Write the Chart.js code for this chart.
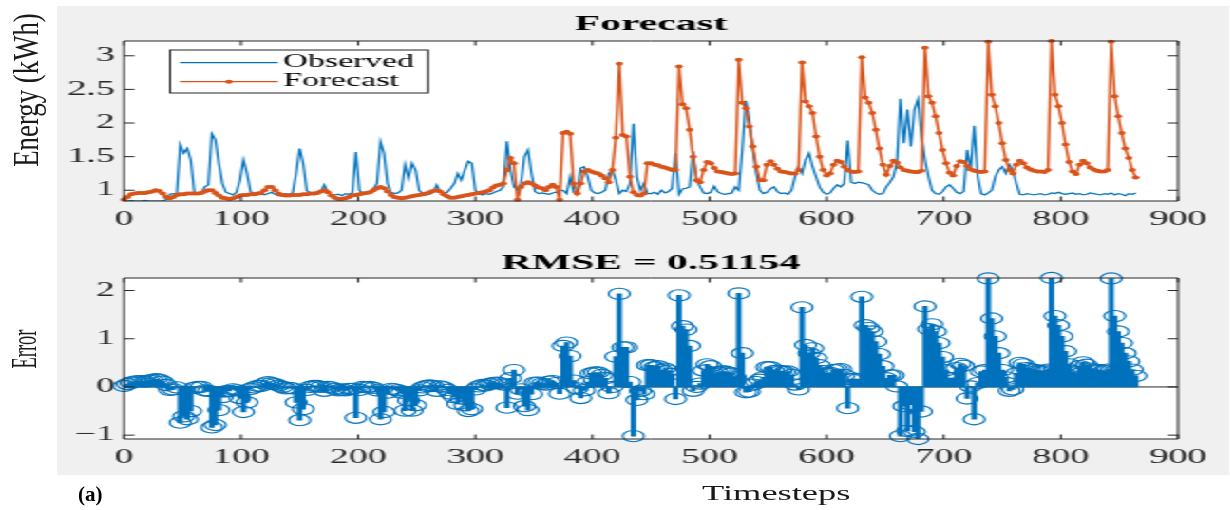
<!DOCTYPE html>
<html>
<head>
<meta charset="utf-8">
<title>Forecast</title>
<script src="https://cdn.jsdelivr.net/npm/chart.js@4.4.1/dist/chart.umd.min.js"></script>
<style>
    html, body { margin: 0; padding: 0; background: #fff; }
    body { width: 1230px; height: 510px; position: relative; overflow: hidden; font-family: "Liberation Serif", "Times New Roman", serif; }
    /* the source figure is stretched sideways, so the whole plot is drawn narrow and scaled */
    #fig { position: absolute; left: 0; top: 0; width: 648px; height: 510px; transform: scaleX(1.9); transform-origin: 0 0; }
    #bg { position: absolute; left: 30px; top: 6px; width: 617px; height: 469px; background: #f0f0f0; }
    #c1 { position: absolute; left: 30px; top: 6px; }
    #c2 { position: absolute; left: 30px; top: 240px; }
    .lbl { position: absolute; white-space: nowrap; line-height: 1; font-size: 20px; color: #1a1a1a; }
    #ylab1 { left: 25px; top: 90px; transform: translate(-50%, -50%) rotate(-90deg) scale(1.34, 1.8); }
    #ylab2 { left: 23.5px; top: 349px; transform: translate(-50%, -50%) rotate(-90deg) scale(0.92, 1.74); }
    #xlab { left: 702px; top: 483px; transform: scaleX(1.82); transform-origin: 0 0; }
    #tag { left: 78px; top: 484px; font-size: 21px; font-weight: bold; color: #000; }
</style>
</head>
<body>
<div id="fig">
    <div id="bg"></div>
    <canvas id="c1" width="617" height="234"></canvas>
    <canvas id="c2" width="617" height="235"></canvas>
</div>
<div class="lbl" id="ylab1">Energy (kWh)</div>
<div class="lbl" id="ylab2">Error</div>
<div class="lbl" id="xlab">Timesteps</div>
<div class="lbl" id="tag">(a)</div>

<script>
// one value every 3 timesteps, 0 .. 864
const timesteps = Array.from({length: 289}, (_, i) => i * 3);

const observed = [
    0.84,0.84,0.85,0.84,0.84,0.84,0.85,0.84,0.84,0.84,
    0.84,0.84,0.86,0.94,0.95,0.94,1.68,1.55,1.62,1.45,
    0.97,0.95,0.96,1.05,1.08,1.84,1.75,1.40,1.10,0.97,
    0.95,0.93,0.97,1.15,1.45,1.25,0.98,0.95,0.93,0.94,
    0.93,0.95,0.97,0.94,0.92,0.93,0.95,0.94,0.96,1.25,
    1.62,1.40,1.00,0.95,0.93,0.94,0.98,1.08,0.97,0.93,
    0.93,0.94,0.92,0.95,0.94,0.96,1.57,1.00,0.95,0.97,
    0.97,1.02,1.10,1.72,1.55,1.10,0.97,0.95,0.96,1.00,
    1.38,1.18,1.40,1.30,1.00,0.95,0.93,0.94,0.97,1.08,
    0.97,0.95,0.97,1.03,1.10,1.25,1.15,1.30,1.43,1.40,
    1.00,0.95,0.93,0.95,0.94,0.96,0.98,1.00,1.05,1.73,
    1.30,1.05,1.00,1.10,1.50,1.60,1.25,0.98,0.95,0.96,
    0.95,0.94,0.96,0.97,1.00,1.00,0.95,1.20,0.97,0.98,
    1.33,1.35,1.20,1.00,0.96,0.95,0.97,1.00,1.25,1.30,
    1.15,0.95,1.00,0.98,1.10,1.99,1.20,1.00,1.10,0.95,
    0.95,0.97,0.94,1.00,0.96,0.98,1.03,1.55,0.94,1.02,
    1.03,1.05,1.58,1.15,1.05,0.96,0.95,0.97,1.06,0.98,
    0.95,0.94,0.95,0.96,1.05,1.00,1.60,2.33,2.05,1.60,
    1.25,1.00,0.95,0.97,1.02,1.05,0.98,0.95,0.96,0.94,
    1.00,1.20,1.35,1.25,1.45,1.55,1.35,1.20,1.05,0.97,
    0.94,0.96,1.03,1.08,1.05,1.10,1.74,1.12,1.10,1.12,
    1.11,1.10,1.08,1.00,0.96,0.94,0.95,1.05,1.12,1.20,
    1.40,2.36,1.70,2.20,1.65,2.20,2.35,1.80,1.45,1.20,
    1.00,0.95,0.94,0.98,1.05,1.08,1.03,0.97,0.95,0.98,
    1.60,1.30,1.96,1.20,0.95,0.93,0.96,1.00,1.20,1.30,
    1.35,1.25,1.38,1.30,1.10,0.94,0.93,0.95,0.94,0.93,
    0.94,0.95,0.93,0.94,0.96,0.95,0.97,0.95,0.94,0.95,
    0.96,0.94,0.95,0.93,0.94,0.96,0.95,0.94,0.93,0.95,
    0.94,0.96,0.93,0.95,0.94,0.92,0.95,0.94,0.96
];

const forecast = [
    0.86,0.90,0.94,0.95,0.96,0.96,0.96,0.97,0.98,1.00,
    0.99,0.95,0.90,0.88,0.90,0.93,0.94,0.94,0.95,0.95,
    0.95,0.95,0.96,0.98,1.00,1.00,0.96,0.92,0.89,0.88,
    0.87,0.88,0.90,0.92,0.93,0.93,0.94,0.94,0.95,0.96,
    1.00,1.05,1.05,1.00,0.95,0.93,0.92,0.92,0.93,0.93,
    0.93,0.94,0.94,0.95,0.95,0.96,0.98,1.00,0.97,0.92,
    0.89,0.87,0.87,0.88,0.90,0.92,0.93,0.94,0.95,0.96,
    0.97,1.00,1.03,1.05,1.03,0.98,0.93,0.90,0.89,0.88,
    0.89,0.90,0.91,0.92,0.93,0.94,0.95,0.97,0.99,1.00,
    0.98,0.94,0.91,0.89,0.89,0.90,0.91,0.92,0.93,0.94,
    0.95,0.96,0.97,0.98,1.00,1.04,1.07,1.08,1.10,1.30,
    1.48,1.40,0.86,1.05,1.10,1.12,1.10,1.07,1.04,1.03,
    1.00,1.05,1.08,1.05,0.86,1.85,1.87,1.84,1.10,0.95,
    1.10,1.28,1.30,1.28,1.26,1.25,1.22,1.18,1.12,1.30,
    1.78,2.88,1.82,1.80,1.20,0.97,0.93,0.92,0.95,1.40,
    1.40,1.38,1.37,1.35,1.34,1.32,1.30,1.30,2.84,2.28,
    2.22,1.90,1.50,1.15,1.12,1.30,1.42,1.40,1.33,1.28,
    1.27,1.26,1.25,1.24,1.25,2.94,2.30,2.22,1.95,1.65,
    1.35,1.15,1.15,1.38,1.43,1.38,1.32,1.28,1.27,1.26,
    1.25,1.25,1.30,2.90,2.32,2.25,2.15,1.80,1.50,1.30,
    1.22,1.25,1.38,1.44,1.42,1.35,1.30,1.28,1.27,1.28,
    2.98,2.38,2.30,2.15,1.90,1.62,1.38,1.23,1.36,1.44,
    1.41,1.34,1.30,1.29,1.28,1.27,1.27,1.29,3.12,2.40,
    2.30,2.10,1.85,1.60,1.40,1.26,1.22,1.36,1.43,1.42,
    1.36,1.31,1.29,1.28,1.27,1.28,3.21,2.42,2.25,2.00,
    1.70,1.45,1.30,1.25,1.38,1.44,1.40,1.34,1.31,1.29,
    1.28,1.28,1.27,1.30,3.22,2.42,2.25,2.00,1.68,1.42,
    1.28,1.24,1.38,1.44,1.40,1.34,1.31,1.29,1.28,1.28,
    1.30,3.21,2.40,2.10,1.85,1.62,1.48,1.30,1.19
];

const errorVals = [
    0.02,0.06,0.09,0.11,0.12,0.12,0.11,0.13,0.14,0.16,
    0.15,0.11,0.04,-0.06,-0.05,-0.01,-0.74,-0.61,-0.67,-0.50,
    -0.02,0.00,0.00,-0.07,-0.08,-0.84,-0.79,-0.48,-0.21,-0.09,
    -0.08,-0.05,-0.07,-0.23,-0.52,-0.32,-0.04,-0.01,0.02,0.02,
    0.07,0.10,0.08,0.06,0.03,0.00,-0.03,-0.02,-0.03,-0.32,
    -0.69,-0.46,-0.06,0.00,0.02,0.02,0.00,-0.08,0.00,-0.01,
    -0.04,-0.07,-0.05,-0.07,-0.04,-0.04,-0.64,-0.06,0.00,-0.01,
    0.00,-0.02,-0.07,-0.67,-0.52,-0.12,-0.04,-0.05,-0.07,-0.12,
    -0.49,-0.28,-0.49,-0.38,-0.07,-0.01,0.02,0.03,0.02,-0.08,
    0.01,-0.01,-0.06,-0.14,-0.21,-0.35,-0.24,-0.38,-0.50,-0.46,
    -0.05,0.01,0.04,0.03,0.06,0.08,0.09,0.08,0.05,-0.43,
    0.18,0.35,-0.14,-0.05,-0.40,-0.48,-0.15,0.09,0.09,0.07,
    0.05,0.11,0.12,0.08,-0.14,0.85,0.92,0.64,0.13,-0.03,
    -0.23,-0.07,0.10,0.28,0.30,0.30,0.25,0.18,-0.13,0.00,
    0.63,1.93,0.82,0.82,0.10,-1.02,-0.27,-0.08,-0.15,0.45,
    0.45,0.41,0.43,0.35,0.38,0.34,0.27,-0.25,1.90,1.26,
    1.19,0.85,-0.08,0.00,0.07,0.34,0.47,0.43,0.27,0.30,
    0.32,0.32,0.30,0.28,0.20,1.94,0.70,-0.11,-0.10,0.05,
    0.10,0.15,0.20,0.41,0.41,0.33,0.34,0.33,0.31,0.32,
    0.25,0.05,-0.05,1.65,0.87,0.70,0.80,0.60,0.45,0.33,
    0.28,0.29,0.35,0.36,0.37,0.25,-0.44,0.16,0.17,0.16,
    1.87,1.28,1.22,1.15,0.94,0.68,0.43,0.18,0.24,0.24,
    0.01,-1.02,-0.40,-0.91,-0.37,-0.93,-1.08,-0.51,1.67,1.20,
    1.30,1.15,0.91,0.62,0.35,0.18,0.19,0.39,0.48,0.44,
    -0.24,0.01,-0.67,0.08,0.32,0.35,2.25,1.42,1.05,0.70,
    0.35,0.20,-0.08,-0.05,0.28,0.50,0.47,0.39,0.37,0.36,
    0.34,0.33,0.34,0.36,2.26,1.47,1.28,1.05,0.74,0.47,
    0.32,0.30,0.43,0.51,0.46,0.38,0.36,0.35,0.35,0.33,
    0.36,2.25,1.47,1.15,0.91,0.70,0.53,0.36,0.23
];

const xTicks = [0, 100, 200, 300, 400, 500, 600, 700, 800, 900];
const energyTicks = [1, 1.5, 2, 2.5, 3];
const errorTicks = [-1, 0, 1, 2];

const BLUE = '#0072BD';
const ORANGE = '#D95319';
const INK = '#262626';

Chart.defaults.font.family = '"Liberation Serif", "Times New Roman", serif';
Chart.defaults.color = INK;

const toPoints = vals => timesteps.map((t, i) => ({x: t, y: vals[i]}));

// white axes, box, inward ticks, title and legend the way MATLAB draws them
const matlabAxes = {
    id: 'matlabAxes',
    beforeDatasetsDraw(chart, args, o) {
        const {ctx, chartArea: a, scales} = chart;
        ctx.save();
        ctx.fillStyle = '#ffffff';
        ctx.fillRect(a.left, a.top, a.right - a.left, a.bottom - a.top);
        if (o.baseline) {
            const y0 = scales.y.getPixelForValue(0);
            ctx.strokeStyle = INK;
            ctx.lineWidth = 1;
            ctx.beginPath();
            ctx.moveTo(a.left, y0);
            ctx.lineTo(a.right, y0);
            ctx.stroke();
        }
        ctx.restore();
    },
    afterDraw(chart, args, o) {
        const {ctx, chartArea: a, scales} = chart;
        ctx.save();
        ctx.strokeStyle = INK;
        ctx.lineWidth = 1;
        ctx.beginPath();
        ctx.rect(a.left, a.top, a.right - a.left, a.bottom - a.top);
        scales.x.ticks.forEach(t => {
            const x = scales.x.getPixelForValue(t.value);
            ctx.moveTo(x, a.bottom); ctx.lineTo(x, a.bottom - 4.5);
            ctx.moveTo(x, a.top); ctx.lineTo(x, a.top + 4.5);
        });
        scales.y.ticks.forEach(t => {
            const y = scales.y.getPixelForValue(t.value);
            ctx.moveTo(a.left, y); ctx.lineTo(a.left + 5.5, y);
            ctx.moveTo(a.right, y); ctx.lineTo(a.right - 5.5, y);
        });
        ctx.stroke();

        ctx.fillStyle = '#000';
        ctx.font = 'bold 22px "Liberation Serif"';
        ctx.textAlign = 'center';
        ctx.textBaseline = 'middle';
        ctx.fillText(o.title, (a.left + a.right) / 2, a.top - o.titleGap);

        if (o.legend) {
            const L = o.legend;
            ctx.fillStyle = '#fff';
            ctx.fillRect(L.x, L.y, L.w, L.h);
            ctx.strokeRect(L.x, L.y, L.w, L.h);
            ctx.font = '18px "Liberation Serif"';
            ctx.textAlign = 'left';
            chart.data.datasets.forEach((ds, i) => {
                const yy = L.y + L.rows[i];
                ctx.strokeStyle = ds.borderColor;
                ctx.lineWidth = 1.2;
                ctx.beginPath();
                ctx.moveTo(L.x + 5.2, yy);
                ctx.lineTo(L.x + 56.8, yy);
                ctx.stroke();
                if (ds.pointRadius > 0) {
                    ctx.fillStyle = ds.borderColor;
                    ctx.beginPath();
                    ctx.arc(L.x + 31, yy, ds.pointRadius, 0, Math.PI * 2);
                    ctx.fill();
                }
                ctx.fillStyle = '#000';
                ctx.fillText(ds.label, L.x + 59.6, yy);
            });
        }
        ctx.restore();
    }
};

function xAxis(height) {
    return {
        type: 'linear', min: 0, max: 900, offset: false,
        afterBuildTicks: s => { s.ticks = xTicks.map(v => ({value: v})); },
        afterFit: s => { s.height = height; },
        grid: {display: false, drawTicks: false},
        border: {display: false},
        ticks: {padding: 6.5, maxRotation: 0, autoSkip: false, font: {size: 20}, color: INK,
                callback: v => String(v)}
    };
}

function yAxis(min, max, ticks) {
    return {
        type: 'linear', min: min, max: max,
        afterBuildTicks: s => { s.ticks = ticks.map(v => ({value: v})); },
        afterFit: s => { s.width = 35.26; },
        grid: {display: false, drawTicks: false},
        border: {display: false},
        ticks: {padding: 4.7, font: {size: 20}, color: INK,
                callback: v => v < 0 ? '\u2212' + Math.abs(v) : String(v)}
    };
}

new Chart(document.getElementById('c1'), {
    type: 'line',
    data: {
        datasets: [{
            label: 'Observed',
            data: toPoints(observed),
            borderColor: BLUE,
            borderWidth: 1.2,
            pointRadius: 0,
            order: 2
        }, {
            label: 'Forecast',
            data: toPoints(forecast),
            borderColor: ORANGE,
            backgroundColor: ORANGE,
            borderWidth: 1.4,
            pointRadius: 2,
            pointBorderWidth: 0,
            pointBackgroundColor: ORANGE,
            clip: false,
            order: 1
        }]
    },
    options: {
        responsive: false,
        animation: false,
        events: [],
        layout: {padding: {top: 35, left: 0, right: 27, bottom: 0}},
        scales: {x: xAxis(39), y: yAxis(0.84, 3.22, energyTicks)},
        plugins: {
            legend: {display: false},
            tooltip: {enabled: false},
            matlabAxes: {
                title: 'Forecast', titleGap: 16.5,
                legend: {x: 59.5, y: 44, w: 135.8, h: 43, rows: [12.7, 31.7]}
            }
        }
    },
    plugins: [matlabAxes]
});

new Chart(document.getElementById('c2'), {
    type: 'bar',
    data: {
        datasets: [{
            type: 'bar',
            label: 'Error',
            data: toPoints(errorVals),
            backgroundColor: BLUE,
            borderWidth: 0,
            barThickness: 2.2,
            order: 2
        }, {
            type: 'line',
            label: 'Error',
            data: toPoints(errorVals),
            showLine: false,
            pointRadius: 5.6,
            pointBorderWidth: 1.1,
            pointBorderColor: BLUE,
            pointBackgroundColor: 'rgba(0,0,0,0)',
            clip: false,
            order: 1
        }]
    },
    options: {
        responsive: false,
        animation: false,
        events: [],
        layout: {padding: {top: 38, left: 0, right: 27, bottom: 0}},
        scales: {x: xAxis(36), y: yAxis(-1.08, 2.26, errorTicks)},
        plugins: {
            legend: {display: false},
            tooltip: {enabled: false},
            matlabAxes: {title: 'RMSE = 0.51154', titleGap: 15, baseline: true}
        }
    },
    plugins: [matlabAxes]
});
</script>
</body>
</html>
